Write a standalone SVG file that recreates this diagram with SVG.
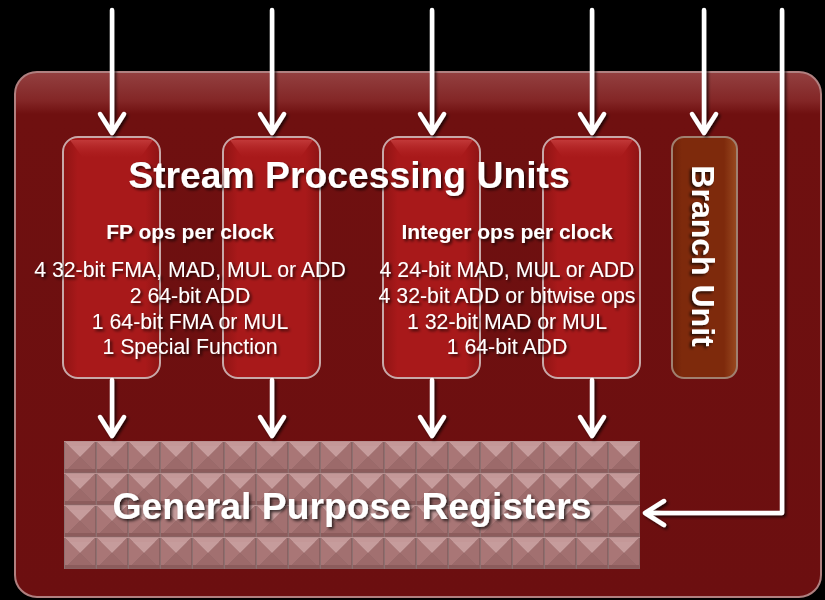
<svg xmlns="http://www.w3.org/2000/svg" width="825" height="600" viewBox="0 0 825 600">
<defs>
<linearGradient id="panelTop" x1="0" y1="0" x2="0" y2="1">
<stop offset="0" stop-color="#934040"/>
<stop offset="0.055" stop-color="#832626"/>
<stop offset="0.08" stop-color="#6f1010"/>
<stop offset="1" stop-color="#6c0f10"/>
</linearGradient>
<linearGradient id="spu" x1="0" y1="0" x2="1" y2="0">
<stop offset="0" stop-color="#8e1414"/>
<stop offset="0.15" stop-color="#a8191a"/>
<stop offset="0.85" stop-color="#a8191a"/>
<stop offset="1" stop-color="#8e1414"/>
</linearGradient>
<linearGradient id="spuTop" x1="0" y1="0" x2="0" y2="1">
<stop offset="0" stop-color="#c84040" stop-opacity="0.8"/>
<stop offset="1" stop-color="#b52424" stop-opacity="0"/>
</linearGradient>
<linearGradient id="br" x1="0" y1="0" x2="1" y2="0">
<stop offset="0" stop-color="#6a1e08"/>
<stop offset="0.15" stop-color="#7e2a0c"/>
<stop offset="0.8" stop-color="#7e2a0c"/>
<stop offset="1" stop-color="#9a4a20"/>
</linearGradient>
<pattern id="cell" patternUnits="userSpaceOnUse" x="64" y="441" width="32" height="32">
<rect width="32" height="32" fill="#8a6262"/>
<polygon points="1,1 31,1 16,16" fill="#c49898"/>
<polygon points="1,1 16,16 1,31" fill="#a97676"/>
<polygon points="31,1 31,31 16,16" fill="#a27070"/>
<polygon points="1,31 16,16 31,31" fill="#9c6a6a"/>
<polygon points="5,5 27,5 16,16" fill="#c8a0a0" opacity="0.5"/>
<rect x="1" y="28" width="30" height="3" fill="#8c5c5c"/>
<line x1="0.5" y1="0" x2="0.5" y2="32" stroke="#8e7070" stroke-width="1"/>
<line x1="0" y1="0.5" x2="32" y2="0.5" stroke="#b89090" stroke-width="1"/>
</pattern>
<filter id="ts" x="-10%" y="-30%" width="120%" height="160%">
<feGaussianBlur in="SourceAlpha" stdDeviation="1.5"/>
<feOffset dx="2" dy="2" result="b"/>
<feFlood flood-color="#000" flood-opacity="0.7"/>
<feComposite in2="b" operator="in"/>
<feMerge><feMergeNode/><feMergeNode in="SourceGraphic"/></feMerge>
</filter>
</defs>
<style>
.big{font-family:"Liberation Sans",Arial,sans-serif;font-weight:bold;fill:#fff;text-anchor:middle}
.hd{font-family:"Liberation Sans",Arial,sans-serif;font-weight:bold;fill:#fff;font-size:21px;text-anchor:middle}
.ln{font-family:"Liberation Sans",Arial,sans-serif;fill:#fff;font-size:21.3px;text-anchor:middle}
.box{fill:url(#spu);stroke:#c8a8a8;stroke-width:2}
.arr{fill:none;stroke:#fff;stroke-width:4.5;stroke-linecap:round;stroke-linejoin:round}
</style>
<rect width="825" height="600" fill="#000"/>
<g id="panel">
<rect x="15" y="72" width="806" height="525" rx="22" fill="url(#panelTop)" stroke="#b08080" stroke-width="2"/>
</g>
<g id="spu1">
<rect class="box" x="63" y="137" width="97" height="241" rx="15"/>
<path d="M70,140 H153 L140,158 H83 Z" fill="url(#spuTop)"/>
</g>
<g id="spu2">
<rect class="box" x="223" y="137" width="97" height="241" rx="15"/>
<path d="M230,140 H313 L300,158 H243 Z" fill="url(#spuTop)"/>
</g>
<g id="spu3">
<rect class="box" x="383" y="137" width="97" height="241" rx="15"/>
<path d="M390,140 H473 L460,158 H403 Z" fill="url(#spuTop)"/>
</g>
<g id="spu4">
<rect class="box" x="543" y="137" width="97" height="241" rx="15"/>
<path d="M550,140 H633 L620,158 H563 Z" fill="url(#spuTop)"/>
</g>
<g id="branch-unit">
<rect x="672" y="137" width="65" height="241" rx="12" fill="url(#br)" stroke="#a08070" stroke-width="2"/>
<text class="big" font-size="32" transform="translate(692,256) rotate(90)" filter="url(#ts)">Branch Unit</text>
</g>
<g id="spu-labels" filter="url(#ts)">
<text class="big" font-size="37.3" x="349" y="188">Stream Processing Units</text>
<text class="hd" x="190" y="239">FP ops per clock</text>
<text class="ln" x="190" y="277">4 32-bit FMA, MAD, MUL or ADD</text>
<text class="ln" x="190" y="303">2 64-bit ADD</text>
<text class="ln" x="190" y="329">1 64-bit FMA or MUL</text>
<text class="ln" x="190" y="354">1 Special Function</text>
<text class="hd" x="507" y="239">Integer ops per clock</text>
<text class="ln" x="507" y="277">4 24-bit MAD, MUL or ADD</text>
<text class="ln" x="507" y="303">4 32-bit ADD or bitwise ops</text>
<text class="ln" x="507" y="329">1 32-bit MAD or MUL</text>
<text class="ln" x="507" y="354">1 64-bit ADD</text>
</g>
<g id="gpr">
<rect x="64" y="441" width="576" height="128" fill="url(#cell)"/>
<text class="big" font-size="37.3" x="352" y="519" filter="url(#ts)">General Purpose Registers</text>
</g>
<g id="connectors" filter="url(#ts)">
<path class="arr" d="M112,10 V133 M100,114 L112,133 L124,114"/>
<path class="arr" d="M272,10 V133 M260,114 L272,133 L284,114"/>
<path class="arr" d="M432,10 V133 M420,114 L432,133 L444,114"/>
<path class="arr" d="M592,10 V133 M580,114 L592,133 L604,114"/>
<path class="arr" d="M704,10 V133 M692,114 L704,133 L716,114"/>
<path class="arr" d="M112,380 V436 M100,417 L112,436 L124,417"/>
<path class="arr" d="M272,380 V436 M260,417 L272,436 L284,417"/>
<path class="arr" d="M432,380 V436 M420,417 L432,436 L444,417"/>
<path class="arr" d="M592,380 V436 M580,417 L592,436 L604,417"/>
<path class="arr" d="M782,10 V513 H645 M664,501 L645,513 L664,525"/>
</g>
</svg>
